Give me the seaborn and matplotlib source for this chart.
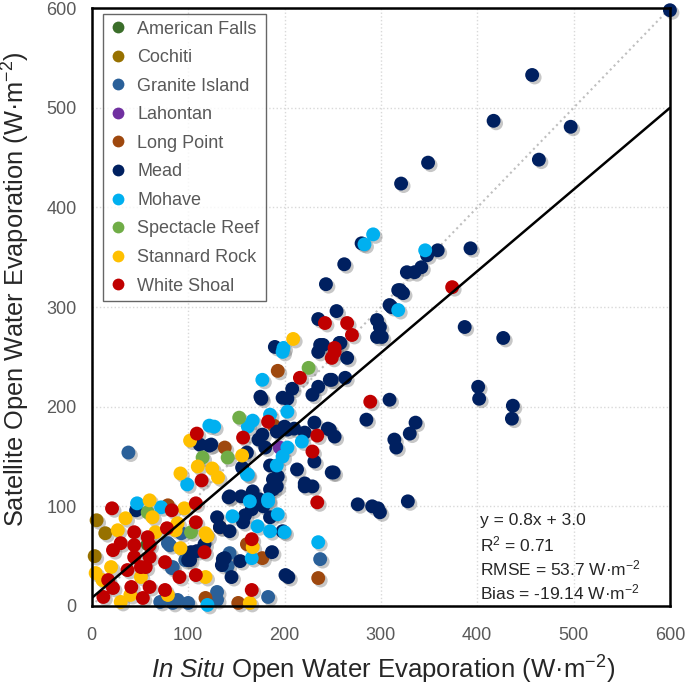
import numpy as np
import pandas as pd
import matplotlib
matplotlib.use("Agg")
import matplotlib.pyplot as plt
import matplotlib.patheffects as pe
import seaborn as sns

sns.set_style("white")
plt.rcParams['font.family'] = ['Liberation Sans', 'DejaVu Sans']
plt.rcParams['mathtext.fontset'] = 'custom'
plt.rcParams['mathtext.rm'] = 'Liberation Sans'
plt.rcParams['mathtext.it'] = 'Liberation Sans:italic'

sites = ["American Falls", "Cochiti", "Granite Island", "Lahontan", "Long Point",
         "Mead", "Mohave", "Spectacle Reef", "Stannard Rock", "White Shoal"]
colors = ["#3b6e2a", "#977100", "#2a6099", "#7030a0", "#9e480e",
          "#002060", "#00b0f0", "#70ad47", "#ffc000", "#c00000"]

# (in situ, satellite) pairs per site, W m-2
american_falls = [(58, 62)]
cochiti = [(5, 86), (14, 73), (3, 50)]
granite_island = [(38, 154), (93, 73), (81, 61), (97, 46), (84, 39), (71, 4), (84, 3),
                  (100, 3), (237, 47), (143, 53), (141, 40), (130, 14), (183, 9),
                  (79, 63), (83, 38), (130, 6), (89, 6)]
lahontan = [(195, 159)]
long_point = [(193, 236), (189, 181), (138, 159), (133, 79), (161, 62), (177, 48),
              (235, 28), (152, 3), (118, 8), (79, 101)]
mead = [(600, 598), (457, 533), (417, 487), (497, 481), (464, 448), (349, 445),
        (321, 424), (393, 359), (359, 357), (348, 352), (327, 335), (335, 335),
        (342, 340), (320, 317), (323, 314), (280, 364), (262, 343), (243, 323),
        (254, 296), (235, 288), (296, 287), (296, 270), (318, 317), (311, 300),
        (190, 260), (237, 262), (258, 264), (309, 302), (299, 280), (301, 270),
        (387, 280), (427, 269), (401, 220), (402, 208), (437, 201), (436, 188),
        (309, 207), (336, 184), (330, 173), (314, 167), (316, 159), (328, 105),
        (299, 94), (285, 187), (252, 170), (247, 177), (251, 134), (276, 102),
        (291, 100), (297, 98), (257, 264), (265, 249), (249, 227), (263, 229),
        (240, 262), (235, 255), (208, 218), (203, 208), (235, 220), (229, 212),
        (247, 227), (176, 208), (200, 180), (210, 178), (221, 174), (231, 184),
        (245, 178), (173, 167), (124, 162), (180, 159), (213, 137), (231, 145),
        (249, 134), (193, 130), (221, 123), (221, 120), (229, 120), (192, 120),
        (188, 117), (143, 110), (155, 110), (166, 97), (130, 89), (157, 84),
        (143, 75), (187, 54), (201, 31), (154, 45), (136, 47), (145, 29), (46, 96),
        (103, 54), (100, 46), (122, 161), (112, 162), (142, 109), (133, 79),
        (138, 48), (135, 41), (102, 46), (109, 55), (117, 62), (114, 56), (159, 91),
        (185, 89), (198, 75), (175, 210), (198, 209), (177, 172), (192, 175),
        (203, 177), (185, 141), (188, 127), (185, 117), (156, 139), (161, 154),
        (167, 115), (174, 107), (178, 100), (204, 29)]
mohave = [(346, 357), (292, 373), (283, 363), (318, 297), (199, 259), (198, 255),
          (177, 227), (203, 195), (185, 192), (167, 186), (162, 180), (127, 180),
          (218, 165), (203, 159), (198, 150), (192, 141), (162, 132), (164, 105),
          (183, 105), (146, 90), (193, 92), (172, 80), (185, 75), (200, 74),
          (235, 64), (166, 48), (47, 103), (72, 99), (122, 181), (99, 122),
          (120, 1), (161, 132), (183, 107)]
spectacle_reef = [(225, 239), (153, 189), (141, 149), (115, 149), (58, 94), (103, 74)]
stannard_rock = [(209, 268), (156, 151), (125, 138), (131, 129), (102, 166), (110, 140),
                 (92, 133), (60, 106), (63, 89), (35, 88), (27, 76), (66, 74), (96, 98),
                 (89, 83), (87, 76), (118, 73), (92, 58), (20, 39), (4, 33), (11, 26),
                 (51, 29), (118, 29), (79, 11), (30, 4), (40, 11), (167, 59), (164, 3),
                 (120, 70)]
white_shoal = [(374, 320), (289, 205), (242, 284), (265, 284), (270, 272), (252, 259),
               (252, 255), (249, 249), (216, 229), (183, 185), (234, 171), (157, 169),
               (229, 155), (234, 104), (166, 67), (166, 16), (109, 173), (114, 126),
               (21, 98), (83, 96), (44, 74), (58, 69), (78, 78), (108, 103), (108, 84),
               (30, 63), (22, 56), (44, 61), (44, 49), (60, 61), (60, 49), (51, 39),
               (117, 54), (17, 26), (37, 36), (56, 39), (76, 44), (91, 29), (108, 31),
               (76, 16), (41, 19), (60, 19), (22, 18), (12, 9), (53, 8)]

all_sites = [american_falls, cochiti, granite_island, lahontan, long_point,
             mead, mohave, spectacle_reef, stannard_rock, white_shoal]

fit_slope = 0.82
fit_intercept = 8.0
ticks = [0, 100, 200, 300, 400, 500, 600]
stats_lines = ["y = 0.8x + 3.0", "R$^2$ = 0.71", "RMSE = 53.7 W·m$^{-2}$",
               "Bias = -19.14 W·m$^{-2}$"]

rows = []
for name, pts in zip(sites, all_sites):
    for x, y in pts:
        rows.append({"in_situ": x, "satellite": y, "site": name})
df = pd.DataFrame(rows)

fig = plt.figure(figsize=(6.85, 6.87), dpi=100)
ax = fig.add_axes([0.134, 0.118, 0.844, 0.870])

ax.grid(True, color="#d9d9d9", linestyle=":", linewidth=1.0)
ax.set_axisbelow(True)

line_x = np.array([0, 600])
ax.plot(line_x, line_x, color="#bfbfbf", linestyle=":", linewidth=1.5, zorder=1)

sns.scatterplot(data=df, x="in_situ", y="satellite", hue="site", hue_order=sites,
                palette=colors, s=100, linewidth=0, ax=ax, zorder=2, clip_on=False)
pts = ax.collections[0]
pts.set_path_effects([pe.SimplePatchShadow(offset=(1.8, -1.8), shadow_rgbFace="0.45",
                                           alpha=0.4), pe.Normal()])

ax.plot(line_x, fit_slope * line_x + fit_intercept, color="black", linewidth=1.8, zorder=3)

ax.set_xlim(0, 600)
ax.set_ylim(0, 600)
ax.set_xticks(ticks)
ax.set_yticks(ticks)
ax.tick_params(axis="both", length=0, labelsize=13, labelcolor="#595959")
ax.tick_params(axis="x", pad=15)
ax.tick_params(axis="y", pad=11)
for sp in ax.spines.values():
    sp.set_color("black")
    sp.set_linewidth(1.8)

ax.set_xlabel(r"$\it{In\ Situ}$ Open Water Evaporation (W·m$^{-2}$)", fontsize=18.5)
ax.set_ylabel(r"Satellite Open Water Evaporation (W·m$^{-2}$)", fontsize=18.3)
ax.xaxis.set_label_coords(0.503, -0.080)
ax.yaxis.set_label_coords(-0.104, 0.53)

handles, labels = ax.get_legend_handles_labels()
leg = ax.legend(handles, labels, loc="upper left", bbox_to_anchor=(0.019, 0.99),
                borderaxespad=0, fontsize=13, labelspacing=0.64, handletextpad=0.55,
                handlelength=1.0, markerscale=0.85, frameon=True, fancybox=False,
                borderpad=0.35, labelcolor="#595959")
leg.get_frame().set_edgecolor("#404040")
leg.get_frame().set_linewidth(1.0)

for i, t in enumerate(stats_lines):
    ax.text(0.671, 0.143 - i * 0.040, t, transform=ax.transAxes, fontsize=12.5,
            color="#262626", va="center", ha="left")

fig.savefig("out.png", dpi=100)
